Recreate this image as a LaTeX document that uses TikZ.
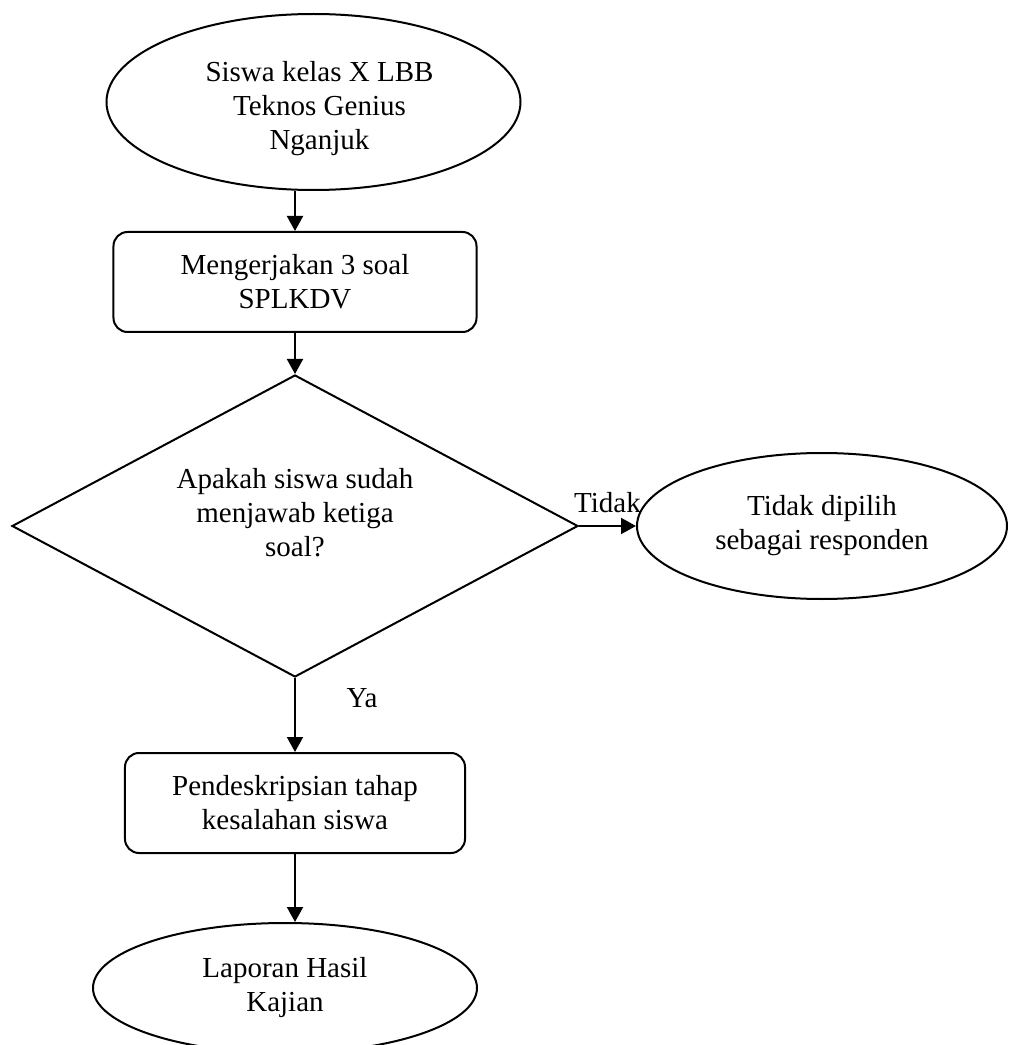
\documentclass[tikz,border=0pt]{standalone}
\usepackage{fontspec}
\setmainfont{Liberation Serif}
\usetikzlibrary{shapes.geometric,arrows.meta}

\begin{document}
\begin{tikzpicture}[>={Triangle[length=7.5pt,width=8pt]}, line width=1pt, font=\fontsize{14.5pt}{17pt}\selectfont,
		terminal/.style = {draw, ellipse, align=center, inner sep=0pt},
		proses/.style = {draw, rectangle, rounded corners=7pt, align=center, minimum height=50pt},
		keputusan/.style = {draw, diamond, inner sep=0pt, minimum width=283pt, minimum height=151pt},
		isi/.style = {align=center, inner sep=0pt}]
		\useasboundingbox (-147.5pt,-259.5pt) rectangle (356.5pt,263pt);
		\node[keputusan, label={[isi, yshift=6.5pt]center:{Apakah siswa sudah\\ menjawab ketiga\\ soal?}}] (cek) {};
		\node[proses, minimum width=181.5pt] (kerja) [node distance=122pt, above of=cek] {Mengerjakan 3 soal\\ SPLKDV};
		\node[terminal, minimum width=207pt, minimum height=88pt, label={[isi, xshift=3pt, yshift=-3.5pt]center:{Siswa kelas X LBB\\ Teknos Genius\\ Nganjuk}}] (mulai) [node distance=90pt, above of=kerja, xshift=9.25pt] {};
		\node[terminal, minimum width=185pt, minimum height=73pt] (tolak) [node distance=263.5pt, right of=cek] {Tidak dipilih\\ sebagai responden};
		\node[proses, minimum width=170pt] (deskripsi) [node distance=138.5pt, below of=cek] {Pendeskripsian tahap\\ kesalahan siswa};
		\node[terminal, minimum width=192pt, minimum height=65pt] (laporan) [node distance=92.5pt, below of=deskripsi, xshift=-5pt] {Laporan Hasil\\ Kajian};
		\draw[->] (mulai.south -| kerja) to (kerja);
		\draw[->] (kerja) to (cek);
		\draw[->] (cek) to node[above, inner sep=6pt] {Tidak} (tolak);
		\draw[->] (cek) to node[pos=0.27, right=22pt] {Ya} (deskripsi);
		\draw[->] (deskripsi) to (deskripsi |- laporan.north);

	\end{tikzpicture}
\end{document}
